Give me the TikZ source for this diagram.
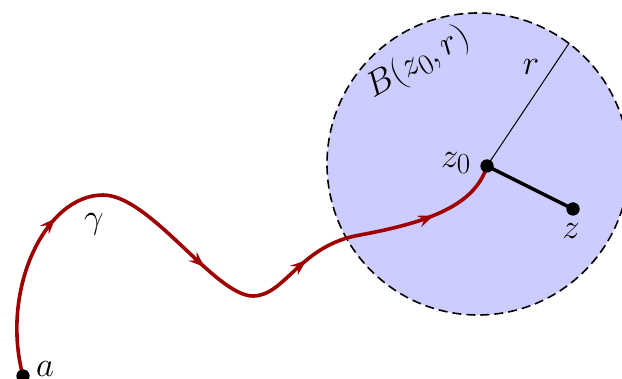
\documentclass[tikz,border=0pt]{standalone}
\usetikzlibrary{arrows.meta,decorations.markings}
\definecolor{pathred}{RGB}{158,0,0}
\definecolor{ballblue}{RGB}{204,204,255}
\newcommand{\mlbl}[1]{\scalebox{1.4}{\Huge$#1$}}
\begin{document}
\begin{tikzpicture}[x=1pt,y=-1pt,
  lbl/.style={inner sep=0pt},
  dotnode/.style={circle,fill=black,inner sep=0pt,minimum size=13pt},
  ballnode/.style={circle,minimum size=302pt,inner sep=0pt,fill=ballblue,draw=black,line width=1.6pt,dash pattern=on 9pt off 5pt},
  gammapath/.style={draw=pathred,line width=3.6pt,
    postaction={decorate},
    decoration={markings,
      mark=at position 0.245 with {\arrow[pathred]{Stealth[length=16pt,width=12pt,inset=6pt]}},
      mark=at position 0.51 with {\arrow[pathred]{Stealth[length=16pt,width=12pt,inset=6pt]}},
      mark=at position 0.69 with {\arrow[pathred]{Stealth[length=16pt,width=12pt,inset=6pt]}},
      mark=at position 0.89 with {\arrow[pathred]{Stealth[length=16pt,width=12pt,inset=6pt]}}}}]
\useasboundingbox (0,0) rectangle (622,379);
\begin{scope}
\clip (0,0) rectangle (622,379);
\node[ballnode] (ball) at (478,164) {};
\coordinate (rim) at (ball.53.7);
\node[dotnode] (a) at (23,376) {};
\node[dotnode] (z0) at (487,166) {};
\node[dotnode] (z) at (573,209) {};
\draw[line width=1pt] (z0.center) -- (rim);
\draw[line width=3.5pt] (z0.center) -- (z.center);
\draw[gammapath] (a.center) .. controls (0,290) and (45,195) .. (103,195)
  .. controls (150,195) and (215,296) .. (253,296)
  .. controls (285,296) and (300,245) .. (360,235)
  .. controls (430,222) and (475,205) .. (z0.center);
\node[dotnode] at (a.center) {};
\node[dotnode] at (z0.center) {};
\node[dotnode] at (z.center) {};
\node[lbl] (alab) at (45,369) {\mlbl{a}};
\node[lbl] (z0lab) at (456,163) {\mlbl{z_0}};
\node[lbl] (zlab) at (571,231) {\mlbl{z}};
\node[lbl] (gam) at (94,224) {\mlbl{\gamma}};
\node[lbl,rotate=30] (blab) at (418,63) {\mlbl{B(z_0,r)}};
\node[lbl] (rlab) at (531,67) {\mlbl{r}};
\end{scope}
\end{tikzpicture}
\end{document}
